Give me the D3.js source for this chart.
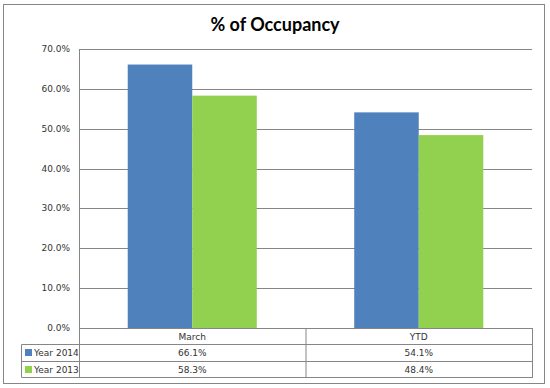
<!DOCTYPE html>
<html>
<head>
<meta charset="utf-8">
<script src="https://cdn.jsdelivr.net/npm/d3@7"></script>
<style>
  body { margin: 0; background: #fff; }
  text { font-family: "DejaVu Sans", Verdana, sans-serif; }
</style>
</head>
<body>
<div id="chart"></div>
<script>
// chart data
const categories = ["March", "YTD"];
const seriesNames = ["Year 2014", "Year 2013"];
const year2014 = [66.1, 54.1];
const year2013 = [58.3, 48.4];
const yTicks = [0, 10, 20, 30, 40, 50, 60, 70];
const colors = ["#4F81BD", "#92D050"];

const width = 550, height = 388;
const svg = d3.select("#chart").append("svg")
  .attr("width", width)
  .attr("height", height);

// outer chart border
svg.append("rect")
  .attr("x", 3.5).attr("y", 4.5)
  .attr("width", 541).attr("height", 379)
  .attr("fill", "#fff")
  .attr("stroke", "#868686");

svg.append("text")
  .attr("x", 275).attr("y", 31)
  .attr("text-anchor", "middle")
  .style("font-family", "Lato, 'Open Sans', sans-serif")
  .style("font-weight", "bold")
  .style("font-size", "18px")
  .text("% of Occupancy");

const plotLeft = 79, plotRight = 532, plotTop = 49, plotBottom = 328;

const x = d3.scaleBand().domain(categories).range([plotLeft, plotRight]);
const y = d3.scaleLinear().domain([0, 70]).range([plotBottom, plotTop]);
const xs = d3.scaleBand().domain(seriesNames).range([0, x.bandwidth()]).paddingOuter(0.755);

// gridlines
svg.append("g").selectAll("line")
  .data(yTicks).enter().append("line")
  .attr("x1", plotLeft).attr("x2", plotRight)
  .attr("y1", d => Math.round(y(d)) + 0.5)
  .attr("y2", d => Math.round(y(d)) + 0.5)
  .attr("stroke", "#868686");

// y axis labels
svg.append("g").selectAll("text")
  .data(yTicks).enter().append("text")
  .attr("x", 70)
  .attr("y", d => y(d) + 3)
  .attr("text-anchor", "end")
  .style("font-size", "9px")
  .attr("fill", "#333")
  .text(d => d.toFixed(1) + "%");

const series = [year2014, year2013];
series.forEach((vals, si) => {
  svg.append("g").selectAll("rect")
    .data(vals).enter().append("rect")
    .attr("x", (d, i) => x(categories[i]) + xs(seriesNames[si]))
    .attr("y", d => y(d))
    .attr("width", xs.bandwidth())
    .attr("height", d => plotBottom - y(d))
    .attr("fill", colors[si]);
});

// data table
const rowH = 16.3;
const tbl = svg.append("g").attr("stroke", "#868686").attr("fill", "none");
const lineAt = (x1, y1, x2, y2) => tbl.append("line")
  .attr("x1", x1).attr("y1", y1).attr("x2", x2).attr("y2", y2);

const legendLeft = 21.5;
const rowY = [0, 1, 2, 3].map(k => Math.round(plotBottom + k * rowH) + 0.5);
lineAt(plotLeft + 0.5, plotTop, plotLeft + 0.5, rowY[3]);
lineAt(plotRight + 0.5, plotBottom, plotRight + 0.5, rowY[3]);
lineAt(x("YTD") + 0.5, plotBottom, x("YTD") + 0.5, rowY[3]);
lineAt(plotLeft, rowY[0], plotRight + 1, rowY[0]);
lineAt(legendLeft, rowY[1], plotRight + 1, rowY[1]);
lineAt(legendLeft, rowY[2], plotRight + 1, rowY[2]);
lineAt(legendLeft, rowY[3], plotRight + 1, rowY[3]);
lineAt(legendLeft, rowY[1], legendLeft, rowY[3]);

// header row
svg.append("g").selectAll("text")
  .data(categories).enter().append("text")
  .attr("x", d => x(d) + x.bandwidth() / 2)
  .attr("y", rowY[0] + 11.5)
  .attr("text-anchor", "middle")
  .style("font-size", "9px")
  .attr("fill", "#333")
  .text(d => d);

series.forEach((vals, si) => {
  const ry = rowY[si + 1];
  svg.append("rect")
    .attr("x", 25).attr("y", ry + 4.5)
    .attr("width", 7).attr("height", 7)
    .attr("fill", colors[si]);
  svg.append("text")
    .attr("x", 34).attr("y", ry + 11.5)
    .style("font-size", "9px")
    .attr("fill", "#333")
    .text(seriesNames[si]);
  svg.append("g").selectAll("text")
    .data(vals).enter().append("text")
    .attr("x", (d, i) => x(categories[i]) + x.bandwidth() / 2)
    .attr("y", ry + 11.5)
    .attr("text-anchor", "middle")
    .style("font-size", "9px")
    .attr("fill", "#333")
    .text(d => d.toFixed(1) + "%");
});
</script>
</body>
</html>
